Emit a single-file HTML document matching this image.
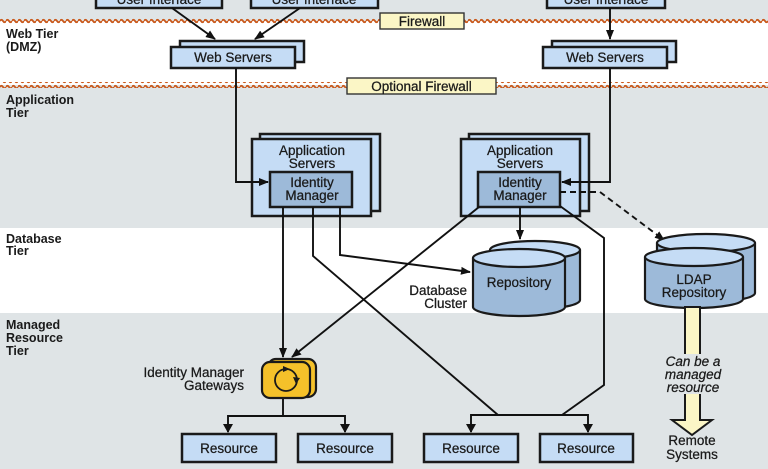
<!DOCTYPE html>
<html><head><meta charset="utf-8"><style>
html,body{margin:0;padding:0;background:#fff}
svg{display:block}
text{font-family:"Liberation Sans",Arial,sans-serif;fill:#1a1a1a}
.t{font-weight:bold;font-size:12.5px}
.b{font-size:13.5px;stroke:#1a1a1a;stroke-width:0.25px}
</style></head><body>
<svg width="768" height="469" viewBox="0 0 768 469" xmlns="http://www.w3.org/2000/svg">
<defs>
<pattern id="wv" width="6" height="6" patternUnits="userSpaceOnUse">
<path d="M0 3 Q1.5 0.5 3 3 T6 3" fill="none" stroke="#c9591c" stroke-width="1.8"/>
</pattern>
<marker id="ar" markerWidth="10" markerHeight="10" refX="9" refY="5" orient="auto" markerUnits="userSpaceOnUse">
<path d="M0 1 L10 5 L0 9 Z" fill="#111"/>
</marker>
</defs>
<rect x="0" y="0" width="768" height="21" fill="#dfe4e6"/>
<rect x="0" y="85" width="768" height="143" fill="#dfe4e6"/>
<rect x="0" y="313" width="768" height="156" fill="#dfe4e6"/>
<rect x="0" y="18" width="380" height="6" fill="url(#wv)"/>
<rect x="464" y="18" width="304" height="6" fill="url(#wv)"/>
<rect x="0" y="82" width="347" height="6" fill="url(#wv)"/>
<rect x="496" y="82" width="272" height="6" fill="url(#wv)"/>
<rect x="380" y="13" width="84" height="16" fill="#fbf6c6" stroke="#333" stroke-width="1.4"/>
<text x="422" y="26" class="b" text-anchor="middle">Firewall</text>
<rect x="347" y="78" width="149" height="16" fill="#fbf6c6" stroke="#333" stroke-width="1.4"/>
<text x="421.5" y="91" class="b" text-anchor="middle">Optional Firewall</text>
<text class="t" x="6" y="38">Web Tier</text><text class="t" x="6" y="51">(DMZ)</text>
<text class="t" x="6" y="104">Application</text><text class="t" x="6" y="117">Tier</text>
<text class="t" x="6" y="243">Database</text><text class="t" x="6" y="255">Tier</text>
<text class="t" x="6" y="329">Managed</text><text class="t" x="6" y="342">Resource</text><text class="t" x="6" y="355">Tier</text>
<g fill="#c5dcf5" stroke="#1a1a1a" stroke-width="2.5">
<rect x="96" y="-10" width="126" height="18"/><rect x="251" y="-10" width="127" height="18"/><rect x="547" y="-10" width="118" height="18"/>
</g>
<text x="159" y="4" class="b" text-anchor="middle">User Interface</text>
<text x="314" y="4" class="b" text-anchor="middle">User Interface</text>
<text x="606" y="4" class="b" text-anchor="middle">User Interface</text>
<g stroke="#111" stroke-width="1.9" fill="none">
<line x1="172" y1="8" x2="215" y2="39" marker-end="url(#ar)"/>
<line x1="300" y1="8" x2="255" y2="39" marker-end="url(#ar)"/>
<line x1="610" y1="8" x2="610" y2="39" marker-end="url(#ar)"/>
</g>
<g fill="#c5dcf5" stroke="#1a1a1a" stroke-width="2.5">
<rect x="180" y="41" width="124" height="21"/><rect x="171" y="47" width="124" height="21"/>
<rect x="552" y="41" width="124" height="21"/><rect x="543" y="47" width="124" height="21"/>
</g>
<text x="233" y="62" class="b" text-anchor="middle">Web Servers</text>
<text x="605" y="62" class="b" text-anchor="middle">Web Servers</text>
<g fill="#c5dcf5" stroke="#1a1a1a" stroke-width="2.5">
<rect x="260" y="134" width="120" height="77"/><rect x="252" y="139" width="119" height="77"/>
<rect x="469" y="134" width="120" height="77"/><rect x="461" y="139" width="119" height="77"/>
</g>
<g fill="#9dbad9" stroke="#1a1a1a" stroke-width="2.5">
<rect x="270" y="172" width="82" height="35"/><rect x="478" y="172" width="82" height="35"/>
</g>
<g class="b" text-anchor="middle">
<text x="312" y="155">Application</text><text x="312" y="168">Servers</text>
<text x="312" y="187">Identity</text><text x="312" y="200">Manager</text>
<text x="520" y="155">Application</text><text x="520" y="168">Servers</text>
<text x="520" y="187">Identity</text><text x="520" y="200">Manager</text>
</g>
<g stroke="#111" stroke-width="1.9" fill="none">
<polyline points="236,68 236,182 268,182" marker-end="url(#ar)"/>
<polyline points="610,68 610,182 562,182" marker-end="url(#ar)"/>
<polyline points="560,192 600,192 664,240" stroke-dasharray="6,4" marker-end="url(#ar)"/>
<line x1="283" y1="207" x2="283" y2="357" marker-end="url(#ar)"/>
<polyline points="313,207 313,256 498,415"/>
<polyline points="340,207 340,255 470,272" marker-end="url(#ar)"/>
<line x1="479" y1="207" x2="292" y2="357" marker-end="url(#ar)"/>
<line x1="520" y1="207" x2="520" y2="239" marker-end="url(#ar)"/>
<polyline points="560,206 604,238 604,385 562,415"/>
<polyline points="471,432 471,415 588,415 588,432"/>
<polyline points="283,397 283,416"/>
<polyline points="228,432 228,416 345,416 345,432"/>
</g>
<g fill="#111">
<path d="M466 424 L476 424 L471 433Z"/><path d="M583 424 L593 424 L588 433Z"/>
<path d="M223 424 L233 424 L228 433Z"/><path d="M340 424 L350 424 L345 433Z"/>
</g>
<rect x="268" y="359" width="48" height="38" rx="8" fill="#f5c12a" stroke="#1a1a1a" stroke-width="2.2"/>
<rect x="262" y="362" width="48" height="36" rx="8" fill="#f5c12a" stroke="#1a1a1a" stroke-width="2.2"/>
<circle cx="286" cy="380" r="11" fill="none" stroke="#1a1a1a" stroke-width="1.8"/>
<path d="M283 366 L290 369 L283 372Z M296 384 L293 377 L300 378Z" fill="#1a1a1a"/>
<text x="244" y="377" class="b" text-anchor="end">Identity Manager</text>
<text x="244" y="390" class="b" text-anchor="end">Gateways</text>
<g fill="#c5dcf5" stroke="#1a1a1a" stroke-width="2.5">
<rect x="182" y="434" width="94" height="28"/><rect x="298" y="434" width="94" height="28"/>
<rect x="424" y="434" width="94" height="28"/><rect x="540" y="434" width="93" height="28"/>
</g>
<g class="b" text-anchor="middle">
<text x="229" y="453">Resource</text><text x="345" y="453">Resource</text>
<text x="471" y="453">Resource</text><text x="586" y="453">Resource</text>
</g>
<g stroke="#1a1a1a" stroke-width="2.2">
<path d="M490 250 L490 300 A45 9 0 0 0 580 300 L580 250" fill="#9dbad9"/>
<ellipse cx="535" cy="250" rx="45" ry="9" fill="#c5dcf5"/>
<path d="M473 258 L473 307 A46 9 0 0 0 565 307 L565 258" fill="#9dbad9"/>
<ellipse cx="519" cy="258" rx="46" ry="9" fill="#c5dcf5"/>
<path d="M645 250 L645 300 A49 9 0 0 0 743 300 L743 250" fill="#9dbad9" transform="translate(12,-7)"/>
<ellipse cx="706" cy="243" rx="49" ry="9" fill="#c5dcf5"/>
<path d="M645 257 L645 299 A49 9 0 0 0 743 299 L743 257" fill="#9dbad9"/>
<ellipse cx="694" cy="257" rx="49" ry="9" fill="#c5dcf5"/>
</g>
<text x="519" y="287" class="b" text-anchor="middle">Repository</text>
<text x="694" y="284" class="b" text-anchor="middle">LDAP</text>
<text x="694" y="297" class="b" text-anchor="middle">Repository</text>
<text x="467" y="295" class="b" text-anchor="end">Database</text>
<text x="467" y="308" class="b" text-anchor="end">Cluster</text>
<path d="M685 307 L700 307 L700 420 L712 420 L692 435 L672 420 L685 420Z" fill="#fbf6c6" stroke="#1a1a1a" stroke-width="2"/>
<rect x="650" y="354" width="86" height="40" fill="#dfe4e6"/>
<g class="b" font-style="italic" text-anchor="middle">
<text x="693" y="366">Can be a</text><text x="693" y="379">managed</text><text x="693" y="392">resource</text>
</g>
<text x="692" y="445" class="b" text-anchor="middle">Remote</text>
<text x="692" y="459" class="b" text-anchor="middle">Systems</text>
</svg>
</body></html>
